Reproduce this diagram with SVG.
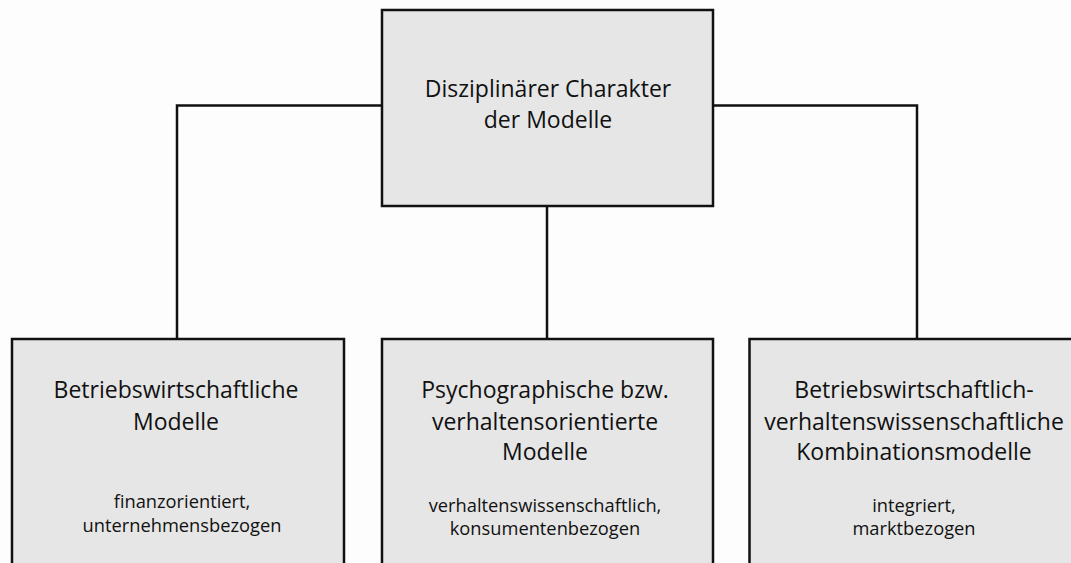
<svg xmlns="http://www.w3.org/2000/svg" width="1071" height="563" viewBox="0 0 1071 563">
<style>
.box{fill:#e6e6e6;stroke:#111;stroke-width:2.5}
.ln{fill:none;stroke:#111;stroke-width:2.5}
.t{font-family:"Open Sans","Liberation Sans",sans-serif;font-size:23px;fill:#111;text-anchor:middle}
.s{font-family:"Open Sans","Liberation Sans",sans-serif;font-size:18.3px;fill:#111;text-anchor:middle}
</style>
<rect width="1071" height="563" fill="#fdfdfd"/>
<g id="connectors">
<path class="ln" d="M177,339 V105.5 H382"/>
<path class="ln" d="M713,105.5 H917 V339"/>
<path class="ln" d="M547,206 V339"/>
</g>
<g id="top">
<rect class="box" x="382" y="10" width="331" height="196"/>
<text class="t" x="548" y="97" font-size="22.5">Disziplinärer Charakter</text>
<text class="t" x="548" y="128" font-size="22.5">der Modelle</text>
</g>
<g id="left">
<rect class="box" x="12" y="339" width="332" height="240"/>
<text class="t" x="176" y="398">Betriebswirtschaftliche</text>
<text class="t" x="176" y="430">Modelle</text>
<text class="s" x="182" y="508">finanzorientiert,</text>
<text class="s" x="182" y="532">unternehmensbezogen</text>
</g>
<g id="middle">
<rect class="box" x="382" y="339" width="331" height="240"/>
<text class="t" x="545" y="398">Psychographische bzw.</text>
<text class="t" x="545" y="430">verhaltensorientierte</text>
<text class="t" x="545" y="460">Modelle</text>
<text class="s" x="545" y="512">verhaltenswissenschaftlich,</text>
<text class="s" x="545" y="535">konsumentenbezogen</text>
</g>
<g id="right">
<rect class="box" x="749.5" y="339" width="330" height="240"/>
<text class="t" x="914" y="398">Betriebswirtschaftlich-</text>
<text class="t" x="914" y="430">verhaltenswissenschaftliche</text>
<text class="t" x="914" y="460">Kombinationsmodelle</text>
<text class="s" x="914" y="512">integriert,</text>
<text class="s" x="914" y="535">marktbezogen</text>
</g>
</svg>
